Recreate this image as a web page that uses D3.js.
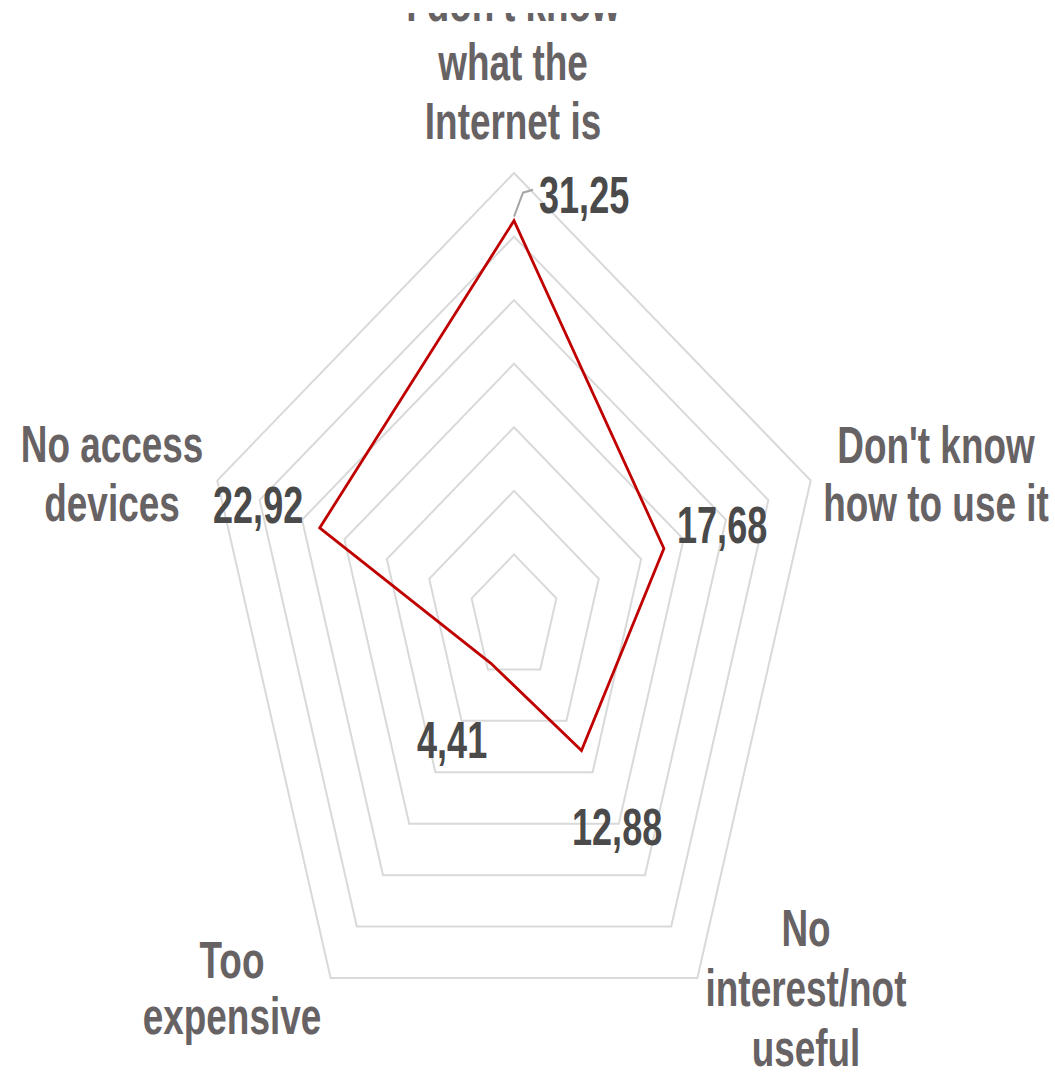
<!DOCTYPE html>
<html>
<head>
<meta charset="utf-8">
<script src="https://cdn.jsdelivr.net/npm/d3@7"></script>
<style>
  html, body { margin: 0; padding: 0; background: #fff; }
  svg { display: block; }
</style>
</head>
<body>
<svg id="chart" width="1055" height="1072"></svg>
<script>
// categories, clockwise from the top
const categories = [
  ["I don't know", "what the", "Internet is"],
  ["Don't know", "how to use it"],
  ["No", "interest/not", "useful"],
  ["Too", "expensive"],
  ["No access", "devices"]
];
const values = [31.25, 17.68, 12.88, 4.41, 22.92];
const valueLabels = ["31,25", "17,68", "12,88", "4,41", "22,92"];
const ringTicks = [5, 10, 15, 20, 25, 30, 35];

// layout
const cx = 514, cy = 618;
const rxMax = 312, ryMax = 445; // source chart is stretched vertically
const catPos = [
  { x: 513, y: 21, lh: 59 },
  { x: 936, y: 463, lh: 58 },
  { x: 806, y: 946, lh: 60 },
  { x: 232, y: 978, lh: 56 },
  { x: 112, y: 462, lh: 59 }
];
const valPos = [
  { x: 539, y: 213 },
  { x: 677, y: 543 },
  { x: 572, y: 845 },
  { x: 417, y: 758 },
  { x: 213, y: 523 }
];

const svg = d3.select("#chart");

const rx = d3.scaleLinear().domain([0, 35]).range([0, rxMax]);
const ry = d3.scaleLinear().domain([0, 35]).range([0, ryMax]);
const angle = d3.scaleLinear().domain([0, categories.length]).range([0, 2 * Math.PI]);

function pt(i, v) {
  const a = angle(i);
  return [cx + rx(v) * Math.sin(a), cy - ry(v) * Math.cos(a)];
}

// check for a narrow font
const ctx = document.createElement("canvas").getContext("2d");
ctx.font = "bold 45px 'Liberation Sans Narrow', monospace";
const wNarrow = ctx.measureText("interest/not").width;
ctx.font = "bold 45px monospace";
const wMono = ctx.measureText("interest/not").width;
const hasNarrow = Math.abs(wNarrow - wMono) > 1;
const family = hasNarrow ? "'Liberation Sans Narrow', 'Arial Narrow', sans-serif" : "'Liberation Sans', Arial, sans-serif";
const squeeze = hasNarrow ? 1 : 0.82;

const line = d3.line();

// grid rings
svg.append("g")
  .selectAll("path")
  .data(ringTicks)
  .join("path")
  .attr("d", (t) => line(categories.map((c, i) => pt(i, t))) + "Z")
  .attr("fill", "none")
  .attr("stroke", "#d9d9d9")
  .attr("stroke-width", 2);

// series
svg.append("path")
  .attr("d", line(values.map((v, i) => pt(i, v))) + "Z")
  .attr("fill", "none")
  .attr("stroke", "#c00000")
  .attr("stroke-width", 2.8)
  .attr("stroke-linejoin", "miter");

// leader for the top value
const peak = pt(0, values[0]);
svg.append("path")
  .attr("d", line([[peak[0], peak[1] - 4], [peak[0] + 9, peak[1] - 28], [peak[0] + 19, peak[1] - 31]]))
  .attr("fill", "none")
  .attr("stroke", "#a6a6a6")
  .attr("stroke-width", 2);

// category labels
svg.append("g")
  .selectAll("text")
  .data(categories)
  .join("text")
  .attr("transform", (d, i) => `translate(${catPos[i].x},${catPos[i].y}) scale(${squeeze},1.14)`)
  .attr("text-anchor", "middle")
  .attr("font-family", family)
  .attr("font-weight", "bold")
  .attr("font-size", 45)
  .attr("fill", "#676264")
  .each(function (d, i) {
    d3.select(this)
      .selectAll("tspan")
      .data(d)
      .join("tspan")
      .attr("x", 0)
      .attr("y", (s, k) => k * catPos[i].lh / 1.14)
      .text((s) => s);
  });

// the source image is cropped through the first line of the top label
svg.append("rect")
  .attr("x", 380).attr("y", 0)
  .attr("width", 300).attr("height", 13)
  .attr("fill", "#fff");

// value labels
svg.append("g")
  .selectAll("text")
  .data(valueLabels)
  .join("text")
  .attr("transform", (d, i) => `translate(${valPos[i].x},${valPos[i].y}) scale(${squeeze},1.18)`)
  .attr("font-family", family)
  .attr("font-weight", "bold")
  .attr("font-size", 44)
  .attr("fill", "#4a4a4a")
  .text((d) => d);
</script>
</body>
</html>
